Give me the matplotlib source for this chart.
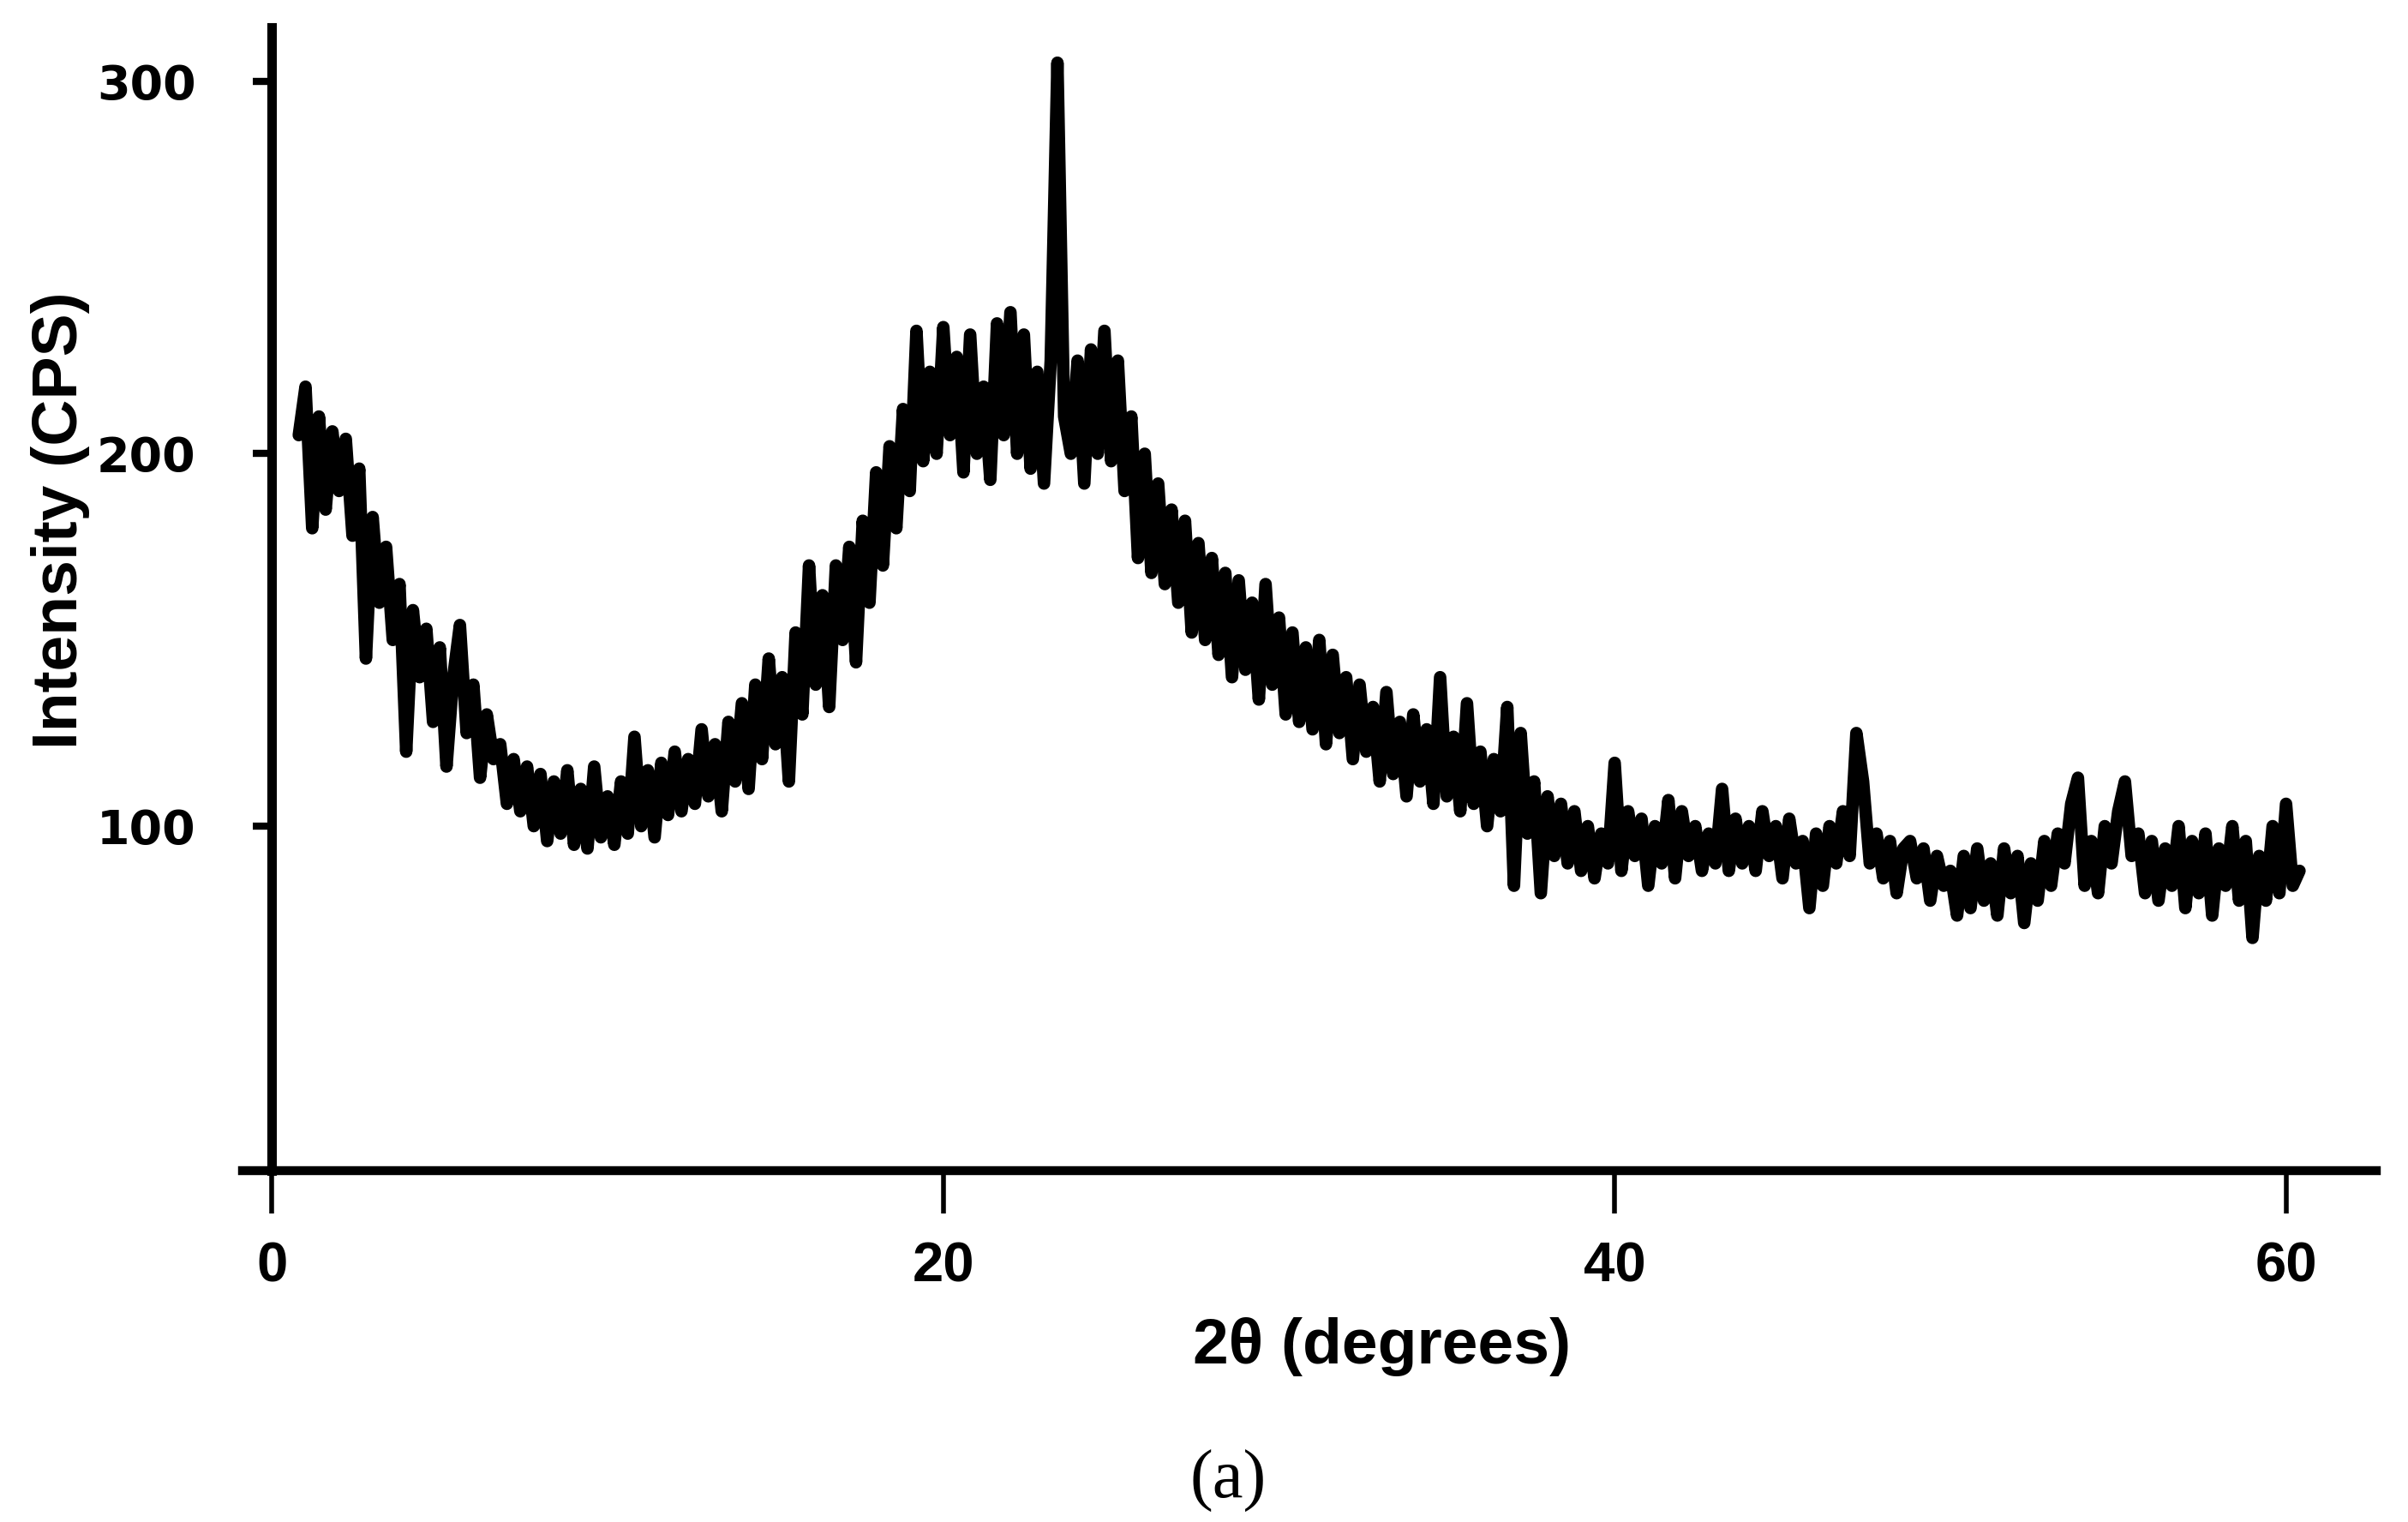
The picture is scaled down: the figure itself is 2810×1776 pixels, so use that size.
#!/usr/bin/env python
# -*- coding: utf-8 -*-
import numpy as np
import matplotlib
matplotlib.use("Agg")
import matplotlib.pyplot as plt


#---------------------------------
# data, 2theta step of 0.2 degrees starting at 0.8
start_angle = 0.8
angle_step = 0.2
intensity = [
    205, 218, 180, 210, 185, 206, 190, 204, 178, 196,   # 0.8 - 2.6
    145, 183, 160, 175, 150, 165, 120, 158, 140, 153,   # 2.8 - 4.6
    128, 148, 116, 140, 154, 125, 138, 113, 130, 118,   # 4.8 - 6.6
    122, 106, 118, 104, 116, 100, 114, 96, 112, 98,     # 6.8 - 8.6
    115, 95, 110, 94, 116, 97, 108, 95, 112, 98,        # 8.8 - 10.6
    124, 100, 115, 97, 117, 103, 120, 104, 118, 106,    # 10.8 - 12.6
    126, 108, 122, 104, 128, 112, 133, 110, 138, 118,   # 12.8 - 14.6
    145, 122, 140, 112, 152, 130, 170, 138, 162, 132,   # 14.8 - 16.6
    170, 150, 175, 144, 182, 160, 195, 170, 202, 180,   # 16.8 - 18.6
    212, 190, 233, 198, 222, 200, 234, 205, 226, 195,   # 18.8 - 20.6
    232, 200, 218, 193, 235, 205, 238, 200, 232, 196,   # 20.8 - 22.6
    222, 192, 225, 305, 210, 200, 225, 192, 228, 200,   # 22.8 - 24.6
    233, 198, 225, 190, 210, 172, 200, 168, 192, 165,   # 24.8 - 26.6
    185, 160, 182, 152, 176, 150, 172, 146, 168, 140,   # 26.8 - 28.6
    166, 142, 160, 134, 165, 138, 156, 130, 152, 128,   # 28.8 - 30.6
    148, 126, 150, 122, 146, 125, 140, 118, 138, 120,   # 30.8 - 32.6
    132, 112, 136, 114, 128, 108, 130, 112, 126, 106,   # 32.8 - 34.6
    140, 108, 124, 104, 133, 106, 120, 100, 118, 104,   # 34.8 - 36.6
    132, 84, 125, 98, 112, 82, 108, 92, 106, 90,        # 36.8 - 38.6
    104, 88, 100, 86, 98, 90, 117, 88, 104, 92,         # 38.8 - 40.6
    102, 84, 100, 90, 107, 86, 104, 92, 100, 88,        # 40.8 - 42.6
    98, 90, 110, 88, 102, 90, 100, 88, 104, 92,         # 42.8 - 44.6
    100, 86, 102, 90, 96, 78, 98, 84, 100, 90,          # 44.8 - 46.6
    104, 92, 125, 112, 90, 98, 86, 96, 82, 94,          # 46.8 - 48.6
    96, 86, 94, 80, 92, 84, 88, 76, 92, 78,             # 48.8 - 50.6
    94, 80, 90, 76, 94, 82, 92, 74, 90, 80,             # 50.8 - 52.6
    96, 84, 98, 90, 106, 113, 84, 96, 82, 100,          # 52.8 - 54.6
    90, 104, 112, 92, 98, 82, 96, 80, 94, 84,           # 54.8 - 56.6
    100, 78, 96, 82, 98, 76, 94, 84, 100, 80,           # 56.8 - 58.6
    96, 70, 92, 80, 100, 82, 106, 84, 88,               # 58.8 - 60.4
]
two_theta = start_angle + angle_step * np.arange(len(intensity))

x_ticks = [0, 20, 40, 60]
y_ticks = [100, 200, 300]

# visualization parameters
fig_size = [28.1, 17.76]
dpi = 100
xlim_min, xlim_max = -0.87, 62.7
ylim_min, ylim_max = 7.6, 314.4

#---------------------------------
fig = plt.figure(1, clear=True, figsize=fig_size, dpi=dpi)
ax = fig.add_axes([0.1008, 0.2311, 0.8862, 0.7507])

ax.plot(two_theta, intensity, color="black", linewidth=10.5,
        solid_joinstyle="round", solid_capstyle="round")

ax.set_xlim(xlim_min, xlim_max)
ax.set_ylim(ylim_min, ylim_max)

ax.spines["top"].set_visible(False)
ax.spines["right"].set_visible(False)
ax.spines["left"].set_position(("data", 0))
ax.spines["left"].set_linewidth(8)
ax.spines["bottom"].set_linewidth(7.5)

ax.set_xticks(x_ticks)
ax.set_yticks(y_ticks)
ax.tick_params(axis="x", direction="out", length=36, width=4, pad=24)
ax.tick_params(axis="y", direction="out", length=16, width=6, pad=48)
for lab in ax.get_xticklabels():
    lab.set_fontfamily(["Liberation Sans", "DejaVu Sans"])
    lab.set_fontweight("bold")
    lab.set_fontsize(47)
for lab in ax.get_yticklabels():
    lab.set_fontfamily("DejaVu Sans")
    lab.set_fontweight("bold")
    lab.set_fontsize(40)

fig.text(0.574, 0.115, "2θ (degrees)", ha="center", va="center",
         fontsize=54, fontweight="bold", family=["Liberation Sans", "DejaVu Sans"])
fig.text(0.025, 0.658, "Intensity (CPS)", ha="center", va="center", rotation=90,
         fontsize=54, fontweight="bold", family=["Liberation Sans", "DejaVu Sans"])
fig.text(0.510, 0.027, "(a)", ha="center", va="center",
         fontsize=58, family="Liberation Serif")

fig.savefig("out.png", dpi=dpi)
plt.close()
